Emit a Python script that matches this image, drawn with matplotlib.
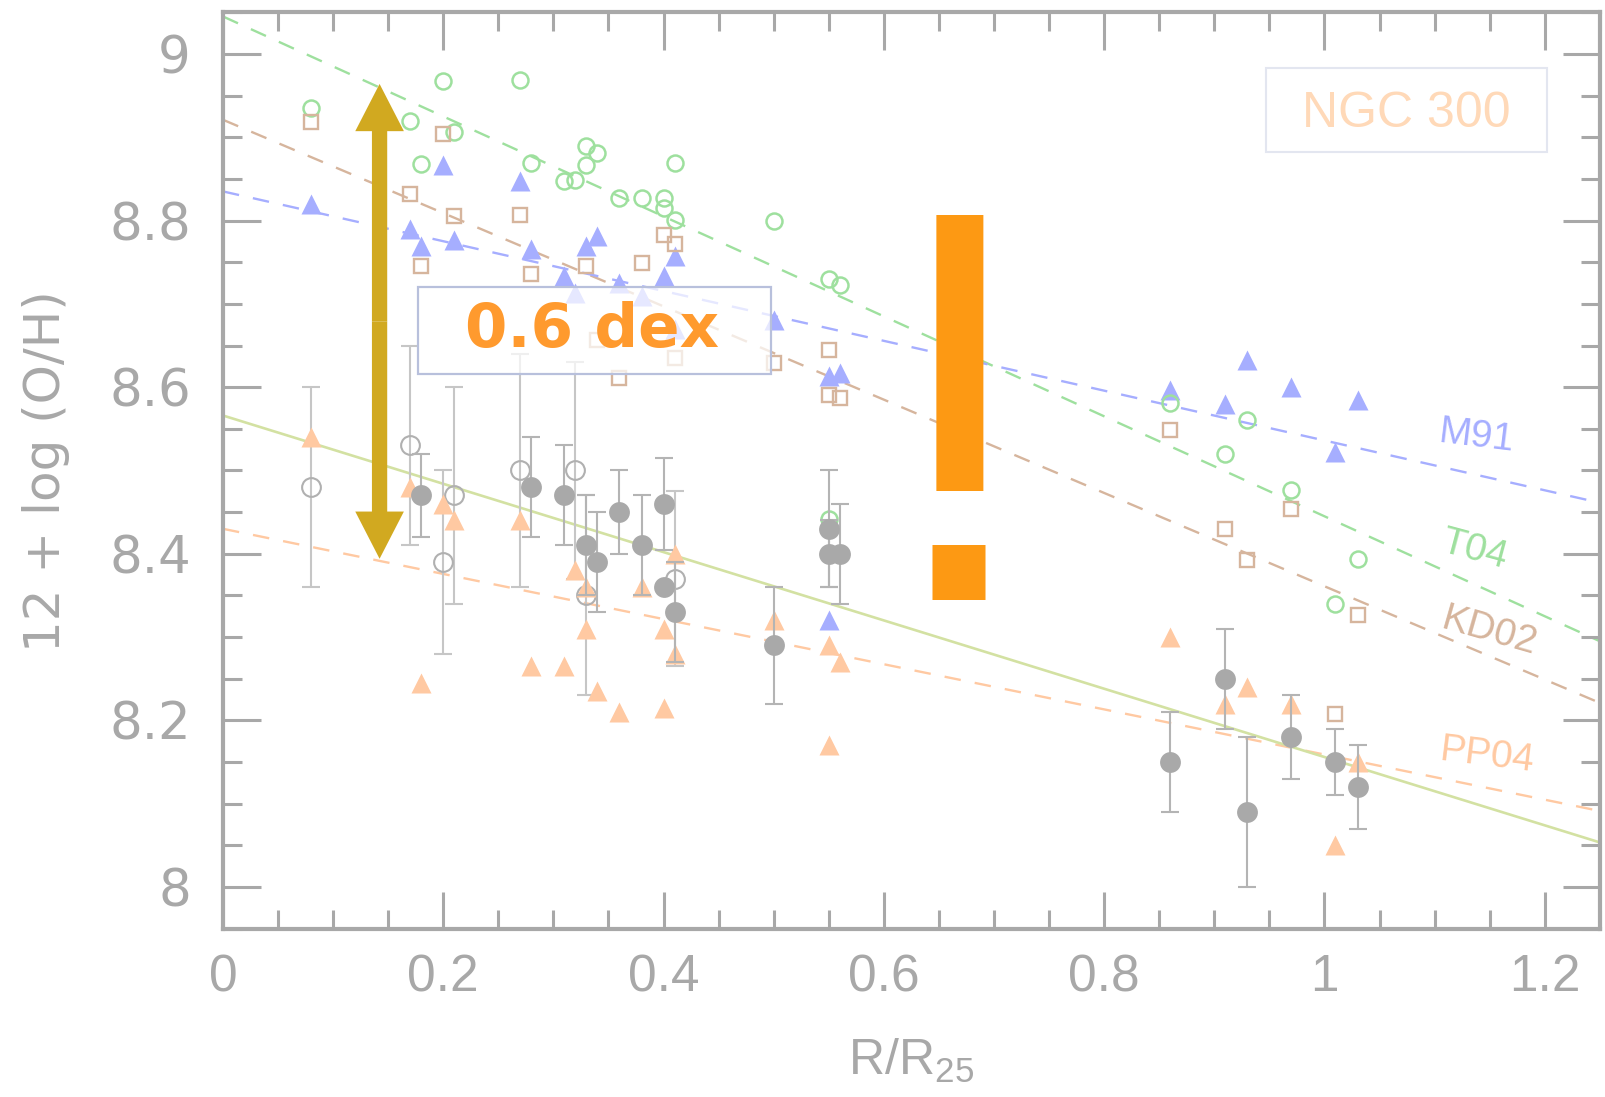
import numpy as np
import matplotlib
matplotlib.use("Agg")
import matplotlib.pyplot as plt
from matplotlib.patches import Rectangle, FancyArrowPatch, ArrowStyle
from matplotlib.ticker import MultipleLocator

plt.rcParams['font.family'] = ['Liberation Sans', 'DejaVu Sans']
plt.rcParams['mathtext.default'] = 'regular'

# HII regions of NGC 300 -- direct (Te) abundances, filled
te_r = [0.18, 0.28, 0.31, 0.33, 0.34, 0.36, 0.38, 0.40, 0.40, 0.41, 0.50, 0.55, 0.55, 0.56,
        0.86, 0.91, 0.93, 0.97, 1.01, 1.03]
te_oh = [8.47, 8.48, 8.47, 8.41, 8.39, 8.45, 8.41, 8.46, 8.36, 8.33, 8.29, 8.43, 8.40, 8.40,
         8.15, 8.25, 8.09, 8.18, 8.15, 8.12]
te_err = [0.05, 0.06, 0.06, 0.06, 0.06, 0.05, 0.06, 0.055, 0.0, 0.06, 0.07, 0.07, 0.04, 0.06,
          0.06, 0.06, 0.09, 0.05, 0.04, 0.05]

# open circles (other Te estimates)
te2_r = [0.08, 0.17, 0.20, 0.21, 0.27, 0.32, 0.33, 0.41]
te2_oh = [8.48, 8.53, 8.39, 8.47, 8.50, 8.50, 8.35, 8.37]
te2_err = [0.12, 0.12, 0.11, 0.13, 0.14, 0.13, 0.12, 0.105]

# strong-line calibrations
t04_r = [0.08, 0.17, 0.18, 0.20, 0.21, 0.27, 0.28, 0.31, 0.32, 0.33, 0.33, 0.34, 0.36, 0.38,
         0.40, 0.40, 0.41, 0.41, 0.50, 0.55, 0.56, 0.55, 0.86, 0.91, 0.93, 0.97, 1.01, 1.03]
t04_oh = [8.935, 8.92, 8.868, 8.968, 8.906, 8.969, 8.869, 8.848, 8.849, 8.889, 8.867, 8.881,
          8.827, 8.827, 8.827, 8.815, 8.869, 8.801, 8.799, 8.730, 8.723, 8.442, 8.581, 8.52,
          8.561, 8.477, 8.34, 8.394]

kd02_r = [0.08, 0.17, 0.18, 0.20, 0.21, 0.27, 0.28, 0.33, 0.34, 0.36, 0.38, 0.40, 0.41, 0.41,
          0.50, 0.55, 0.55, 0.56, 0.86, 0.91, 0.93, 0.97, 1.01, 1.03]
kd02_oh = [8.918, 8.832, 8.746, 8.904, 8.805, 8.807, 8.736, 8.746, 8.657, 8.611, 8.749, 8.783,
           8.772, 8.635, 8.629, 8.645, 8.591, 8.587, 8.549, 8.43, 8.393, 8.454, 8.208, 8.326]

m91_r = [0.08, 0.17, 0.18, 0.20, 0.21, 0.27, 0.28, 0.31, 0.32, 0.33, 0.34, 0.36, 0.38, 0.40,
         0.41, 0.41, 0.50, 0.55, 0.56, 0.55, 0.86, 0.91, 0.93, 0.97, 1.01, 1.03]
m91_oh = [8.82, 8.79, 8.77, 8.867, 8.777, 8.848, 8.766, 8.733, 8.713, 8.769, 8.782, 8.725,
          8.709, 8.733, 8.757, 8.67, 8.681, 8.613, 8.617, 8.32, 8.597, 8.58, 8.633, 8.60,
          8.522, 8.585]

pp04_r = [0.08, 0.17, 0.18, 0.20, 0.21, 0.27, 0.28, 0.31, 0.32, 0.33, 0.33, 0.34, 0.36, 0.38,
          0.40, 0.40, 0.41, 0.41, 0.50, 0.55, 0.55, 0.56, 0.86, 0.91, 0.93, 0.97, 1.01, 1.03]
pp04_oh = [8.54, 8.48, 8.245, 8.46, 8.44, 8.44, 8.265, 8.265, 8.38, 8.36, 8.31, 8.235, 8.21,
           8.36, 8.31, 8.215, 8.40, 8.28, 8.32, 8.29, 8.17, 8.27, 8.30, 8.22, 8.24, 8.22,
           8.05, 8.15]

# linear gradients: (intercept, slope)
fits = {
    'T04': (9.045, -0.60),
    'KD02': (8.921, -0.56),
    'M91': (8.835, -0.299),
    'PP04': (8.430, -0.271),
}
te_fit = (8.566, -0.41)

C_T04 = '#9ee09e'
C_KD02 = '#d6b59d'
C_M91 = '#a6aeff'
C_PP04 = '#ffc9a2'
C_GRAY = '#a9a9a9'
C_AX = '#a8a8a8'

fig = plt.figure(figsize=(16.05, 10.97), dpi=100)
ax = fig.add_axes([0.1389, 0.1527, 0.8579, 0.8361])
ax.set_xlim(0, 1.25)
ax.set_ylim(7.949, 9.05)

xx = np.array(ax.get_xlim())
line_cols = {'T04': C_T04, 'KD02': C_KD02, 'M91': C_M91, 'PP04': C_PP04}
for name, (a, b) in fits.items():
    ax.plot(xx, a + b * xx, color=line_cols[name], lw=1.7, ls=(0, (7, 6)), zorder=1)
ax.plot(xx, te_fit[0] + te_fit[1] * xx, color='#d3e1a2', lw=1.9, zorder=1)

ax.plot(m91_r, m91_oh, '^', ms=14, color=C_M91, mec='none', zorder=3)
ax.plot(t04_r, t04_oh, 'o', ms=11.5, mfc='none', mec=C_T04, mew=1.8, zorder=3)
ax.plot(kd02_r, kd02_oh, 's', ms=10, mfc='none', mec=C_KD02, mew=1.7, zorder=3)
ax.plot(pp04_r, pp04_oh, '^', ms=14, color=C_PP04, mec='none', zorder=3)

ax.errorbar(te2_r, te2_oh, yerr=te2_err, fmt='o', ms=13.5, mfc='none', mec='#b0b0b0', mew=1.5,
            ecolor='#c6c6c6', elinewidth=1.5, capsize=6.5, capthick=1.5, zorder=2)
ax.errorbar(te_r, te_oh, yerr=te_err, fmt='o', ms=15, color=C_GRAY, mec='none',
            ecolor='#b4b4b4', elinewidth=1.5, capsize=6.5, capthick=1.5, zorder=4)

# calibration names next to the gradients
labels = [('M91', 1.138, 8.540, -7, C_M91), ('T04', 1.136, 8.404, -15, C_T04),
          ('KD02', 1.150, 8.306, -16, C_KD02), ('PP04', 1.148, 8.158, -7, C_PP04)]
for txt, lx, ly, rot, c in labels:
    ax.text(lx, ly, txt, color=c, fontsize=28, rotation=rot, ha='center', va='center',
            rotation_mode='anchor', zorder=5)

# axes styling
for s in ax.spines.values():
    s.set_color(C_AX)
    s.set_linewidth(3)
ax.xaxis.set_minor_locator(MultipleLocator(0.05))
ax.yaxis.set_minor_locator(MultipleLocator(0.05))
ax.set_xticks([0, 0.2, 0.4, 0.6, 0.8, 1.0, 1.2])
ax.set_xticklabels(['0', '0.2', '0.4', '0.6', '0.8', '1', '1.2'])
ax.set_yticks([8.0, 8.2, 8.4, 8.6, 8.8, 9.0])
ax.set_yticklabels(['8', '8.2', '8.4', '8.6', '8.8', '9'], family=['DejaVu Sans'])
ax.tick_params(which='both', direction='in', top=True, right=True, color=C_AX,
               labelcolor=C_AX, labelsize=37, width=2.2)
ax.tick_params(which='major', length=27)
ax.tick_params(which='minor', length=14)
ax.tick_params(axis='x', pad=17)
ax.tick_params(axis='y', pad=23)

ax.set_ylabel('12 + log (O/H)', color=C_AX, fontsize=36, family=['DejaVu Sans'])
ax.yaxis.set_label_coords(-0.111, 0.50)
ax.set_xlabel('R/R$_{25}$', color=C_AX, fontsize=36)
ax.xaxis.set_label_coords(0.4996, -0.117)

# galaxy name box
ax.add_patch(Rectangle((0.7576, 0.8482), 0.2037, 0.0915, transform=ax.transAxes,
                       fill=False, ec='#e3e6f0', lw=1.5, zorder=5))
ax.text(0.8595, 0.889, 'NGC 300', transform=ax.transAxes, color='#ffd9b8', fontsize=36,
        ha='center', va='center', zorder=6)

# scatter of the calibrations
ax.add_patch(Rectangle((0.1773, 8.6162), 0.3199, 0.1046, fc=(1, 1, 1, 0.72),
                       ec='#b8c0dc', lw=1.6, zorder=6))
ax.text(0.335, 8.668, '0.6 dex', color='#ff9a2e', fontsize=44, fontweight='bold',
        family=['DejaVu Sans'], ha='center', va='center', zorder=7)

arrow_x, arrow_lo, arrow_hi = 0.1422, 8.394, 8.964
mid = 0.5 * (arrow_lo + arrow_hi)
for end in (arrow_lo, arrow_hi):
    ax.add_patch(FancyArrowPatch((arrow_x, mid), (arrow_x, end),
                                 arrowstyle=ArrowStyle.Simple(head_length=34, head_width=35,
                                                              tail_width=11),
                                 mutation_scale=1, shrinkA=0, shrinkB=0,
                                 color='#d1a920', lw=0, zorder=8))

ax.text(0.6684, 8.344, '!', color='#fd9913', fontsize=403,
        family=['Liberation Sans', 'DejaVu Sans'], ha='center', va='baseline', zorder=7)

fig.savefig('out.png', dpi=100)
